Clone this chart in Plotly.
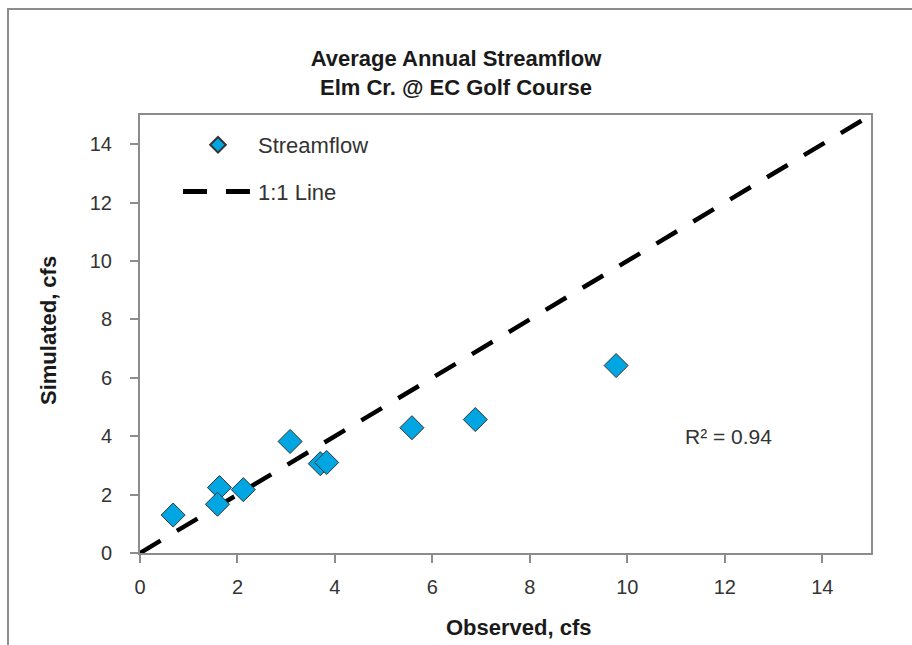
import plotly.graph_objects as go

observed = [0.68, 1.63, 1.59, 2.12, 3.08, 3.70, 3.83, 5.58, 6.88, 9.77]
simulated = [1.30, 2.24, 1.67, 2.17, 3.82, 3.06, 3.10, 4.29, 4.57, 6.42]
line_x = [0, 15]
line_y = [0, 15]
ticks = [0, 2, 4, 6, 8, 10, 12, 14]
r2_text = "R² = 0.94"
x_title = "Observed, cfs"
y_title = "Simulated, cfs"

FONT = "Liberation Sans, Arial, sans-serif"
GRAY = "#8c8c8c"

fig = go.Figure()
fig.add_trace(go.Scatter(
    x=line_x, y=line_y, mode="lines", name="1:1 Line",
    line=dict(color="black", width=4.5, dash="24px,19px"),
    legendgroup="b", legendrank=2,
))
fig.add_trace(go.Scatter(
    x=observed, y=simulated, mode="markers", name="Streamflow",
    marker=dict(symbol="diamond", size=18.5, color="#00a6e2",
                line=dict(color="#333333", width=1)),
    legendgroup="a", legendrank=1,
))

L, R, T, B = 140, 41, 115, 92
W, H = 912, 645
pw, ph = W - L - R, H - T - B

def px_x(p):
    return (p - L) / pw

def px_y(p):
    return (H - B - p) / ph

fig.update_layout(
    width=W, height=H,
    margin=dict(l=L, r=R, t=T, b=B),
    paper_bgcolor="white", plot_bgcolor="white",
    font=dict(family=FONT, size=20, color="#262626"),
    title=dict(text="<b>Average Annual Streamflow<br>Elm Cr. @ EC Golf Course</b>",
               x=0.5, xref="container", xanchor="center",
               y=(H - 66) / H, yref="container", yanchor="middle",
               font=dict(size=22, color="#1a1a1a", family=FONT)),
    xaxis=dict(range=[0, 15], tickvals=ticks, showgrid=False, zeroline=False,
               showline=True, linecolor=GRAY, linewidth=2, mirror=True,
               ticks="outside", ticklen=8, tickcolor=GRAY, tickwidth=2,
               ticklabelstandoff=7,
               tickfont=dict(size=20, color="#333333")),
    yaxis=dict(range=[0, 15], tickvals=ticks, showgrid=False, zeroline=False,
               showline=True, linecolor=GRAY, linewidth=2, mirror=True,
               ticks="outside", ticklen=8, tickcolor=GRAY, tickwidth=2,
               ticklabelstandoff=14,
               tickfont=dict(size=20, color="#333333")),
    legend=dict(x=px_x(178), y=px_y(124), xanchor="left", yanchor="top",
                traceorder="grouped", tracegroupgap=15, itemwidth=70,
                itemsizing="constant",
                bgcolor="rgba(0,0,0,0)", font=dict(size=22, color="#333333")),
    showlegend=True,
    shapes=[dict(type="rect", xref="paper", yref="paper",
                 x0=px_x(8), x1=px_x(925), y0=px_y(660), y1=px_y(9),
                 line=dict(color=GRAY, width=2), layer="below")],
    annotations=[
        dict(text=r2_text, x=11.15, y=4.0, xref="x", yref="y",
             xanchor="left", yanchor="middle", showarrow=False,
             font=dict(size=21, color="#333333")),
        dict(text=f"<b>{x_title}</b>", x=px_x(519), y=px_y(627),
             xref="paper", yref="paper", xanchor="center", yanchor="middle",
             showarrow=False, font=dict(size=22, color="#1a1a1a")),
        dict(text=f"<b>{y_title}</b>", x=px_x(48), y=px_y(331),
             xref="paper", yref="paper", xanchor="center", yanchor="middle",
             textangle=-90, showarrow=False,
             font=dict(size=22, color="#1a1a1a")),
    ],
)

fig.write_html("out.html", config={"displayModeBar": False},
               post_script="document.body.style.margin='0';")
